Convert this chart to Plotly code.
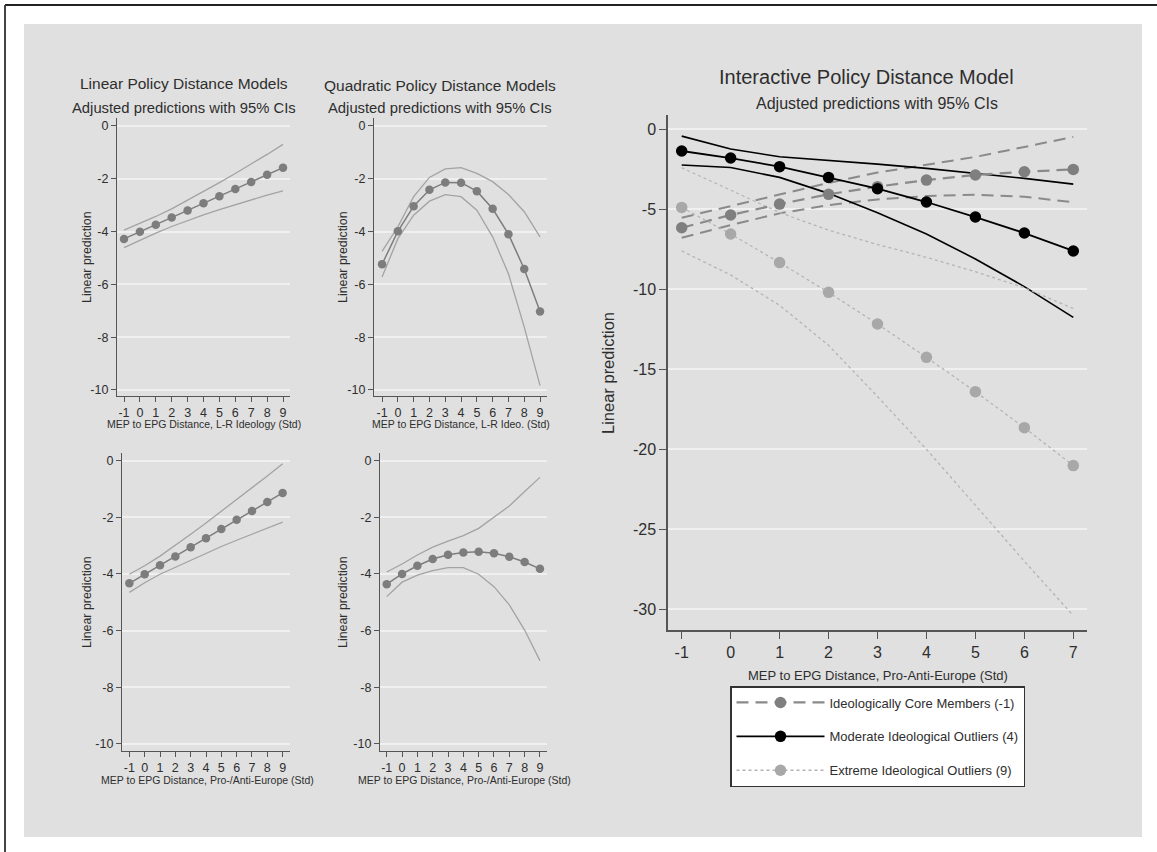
import plotly.graph_objects as go

W, H = 1157, 852

# ---------------- data ----------------
x_small = [-1, 0, 1, 2, 3, 4, 5, 6, 7, 8, 9]
x_small_labels = ["-1", "0", "1", "2", "3", "4", "5", "6", "7", "8", "9"]

lin_lr_pred = [-4.28, -4.01, -3.74, -3.47, -3.20, -2.93, -2.66, -2.39, -2.12, -1.85, -1.58]
lin_lr_hi = [-3.95, -3.70, -3.43, -3.14, -2.82, -2.49, -2.15, -1.80, -1.45, -1.08, -0.70]
lin_lr_lo = [-4.61, -4.33, -4.06, -3.81, -3.58, -3.37, -3.17, -2.98, -2.79, -2.62, -2.46]

quad_lr_pred = [-5.24, -3.99, -3.04, -2.42, -2.14, -2.15, -2.47, -3.14, -4.10, -5.42, -7.03]
quad_lr_hi = [-4.75, -3.82, -2.68, -1.95, -1.63, -1.58, -1.80, -2.11, -2.60, -3.25, -4.20]
quad_lr_lo = [-5.72, -4.27, -3.38, -2.85, -2.60, -2.68, -3.19, -4.20, -5.60, -7.62, -9.84]

lin_eu_pred = [-4.33, -4.01, -3.69, -3.38, -3.06, -2.74, -2.41, -2.09, -1.78, -1.46, -1.14]
lin_eu_hi = [-4.01, -3.71, -3.37, -3.00, -2.60, -2.20, -1.79, -1.37, -0.96, -0.54, -0.11]
lin_eu_lo = [-4.65, -4.31, -4.01, -3.76, -3.52, -3.28, -3.03, -2.81, -2.60, -2.38, -2.17]

quad_eu_pred = [-4.36, -4.00, -3.71, -3.47, -3.32, -3.24, -3.22, -3.27, -3.39, -3.58, -3.82]
quad_eu_hi = [-3.93, -3.65, -3.33, -3.05, -2.84, -2.65, -2.39, -2.01, -1.60, -1.09, -0.59]
quad_eu_lo = [-4.80, -4.29, -4.04, -3.88, -3.78, -3.78, -4.01, -4.45, -5.09, -5.98, -7.06]

x_int = [-1, 0, 1, 2, 3, 4, 5, 6, 7]
x_int_labels = ["-1", "0", "1", "2", "3", "4", "5", "6", "7"]
core_pred = [-6.15, -5.35, -4.67, -4.06, -3.58, -3.17, -2.85, -2.65, -2.50]
core_hi = [-5.52, -4.80, -4.10, -3.35, -2.70, -2.22, -1.72, -1.10, -0.47]
core_lo = [-6.77, -5.98, -5.25, -4.73, -4.38, -4.17, -4.08, -4.21, -4.56]

mod_pred = [-1.35, -1.79, -2.33, -3.00, -3.71, -4.54, -5.48, -6.48, -7.60]
mod_hi = [-0.42, -1.23, -1.71, -1.92, -2.17, -2.44, -2.75, -3.06, -3.42]
mod_lo = [-2.23, -2.38, -3.00, -4.00, -5.21, -6.54, -8.10, -9.83, -11.75]

ext_pred = [-4.88, -6.54, -8.33, -10.19, -12.17, -14.25, -16.40, -18.65, -21.02]
ext_hi = [-2.40, -3.80, -5.20, -6.30, -7.20, -8.00, -8.90, -9.90, -11.20]
ext_lo = [-7.60, -9.10, -11.00, -13.50, -16.70, -20.00, -23.50, -27.00, -30.40]

series_names = ["Ideologically Core Members (-1)",
                "Moderate Ideological Outliers (4)",
                "Extreme Ideological Outliers (9)"]

small_y_ticks = [0, -2, -4, -6, -8, -10]
small_y_labels = ["0", "-2", "-4", "-6", "-8", "-10"]
big_y_ticks = [0, -5, -10, -15, -20, -25, -30]
big_y_labels = ["0", "-5", "-10", "-15", "-20", "-25", "-30"]

# ---------------- helpers ----------------
FONT = "Liberation Sans, Arial, sans-serif"
TXT = "#2e2e2e"
AX = "#555555"


def px(p):
    return p / W


def py(p):
    return 1 - p / H


def dx(p0, p1):
    return [px(p0), px(p1)]


def dy(top, bottom):
    return [py(bottom), py(top)]


fig = go.Figure()

small_panels = [
    ("", (117, 290), (118, 396), [-1.44, 9.44], [-10.23, 0.30], lin_lr_pred, lin_lr_hi, lin_lr_lo),
    ("2", (374, 547), (118, 396), [-1.51, 9.44], [-10.23, 0.30], quad_lr_pred, quad_lr_hi, quad_lr_lo),
    ("3", (122, 290), (453, 751), [-1.48, 9.48], [-10.25, 0.27], lin_eu_pred, lin_eu_hi, lin_eu_lo),
    ("4", (380, 547), (453, 751), [-1.44, 9.46], [-10.25, 0.27], quad_eu_pred, quad_eu_hi, quad_eu_lo),
]

layout_axes = {}
for suf, xd, yd, xr, yr, pred, hi, lo in small_panels:
    xa = "x" + suf
    ya = "y" + suf
    for ci in (hi, lo):
        fig.add_trace(go.Scatter(x=x_small, y=ci, mode="lines", xaxis=xa, yaxis=ya,
                                 line=dict(color="#a3a3a3", width=1.3), showlegend=False,
                                 hoverinfo="skip"))
    fig.add_trace(go.Scatter(x=x_small, y=pred, mode="lines+markers", xaxis=xa, yaxis=ya,
                             line=dict(color="#7d7d7d", width=1.5),
                             marker=dict(color="#7d7d7d", size=8.5), showlegend=False))
    layout_axes["xaxis" + suf] = dict(
        domain=dx(*xd), range=xr, anchor=ya, tickmode="array", tickvals=x_small,
        ticktext=x_small_labels,
        ticks="outside", ticklen=5, tickcolor=AX, tickwidth=1, showline=True, linecolor=AX,
        linewidth=1.3, showgrid=False, zeroline=False,
        tickfont=dict(family=FONT, size=12.5, color=TXT))
    layout_axes["yaxis" + suf] = dict(
        domain=dy(*yd), range=yr, anchor=xa, tickmode="array", tickvals=small_y_ticks,
        ticktext=small_y_labels,
        ticks="outside", ticklen=5, tickcolor=AX, tickwidth=1, showline=True, linecolor=AX,
        linewidth=1.3, showgrid=True, gridcolor="#f0f0f0", gridwidth=1.5, zeroline=False,
        tickfont=dict(family=FONT, size=12.5, color=TXT))

# ---------------- interactive panel ----------------
styles = [
    dict(color="#8a8a8a", mcolor="#7f7f7f", dash="12px,7px", width=2.2, ciw=2.0),
    dict(color="#000000", mcolor="#000000", dash="solid", width=1.8, ciw=1.6),
    dict(color="#b4b4b4", mcolor="#a8a8a8", dash="dot", width=1.3, ciw=1.3),
]
groups = [(core_pred, core_hi, core_lo), (mod_pred, mod_hi, mod_lo), (ext_pred, ext_hi, ext_lo)]

for (pred, hi, lo), st in zip(groups, styles):
    for ci in (hi, lo):
        fig.add_trace(go.Scatter(x=x_int, y=ci, mode="lines", xaxis="x5", yaxis="y5",
                                 line=dict(color=st["color"], width=st["ciw"], dash=st["dash"]),
                                 showlegend=False, hoverinfo="skip"))
for i, ((pred, hi, lo), st) in enumerate(zip(groups, styles)):
    fig.add_trace(go.Scatter(x=x_int, y=pred, mode="lines+markers", xaxis="x5", yaxis="y5",
                             name=series_names[i], legendgroup=f"g{i}",
                             line=dict(color=st["color"], width=st["width"], dash=st["dash"]),
                             marker=dict(color=st["mcolor"], size=11.5)))

layout_axes["xaxis5"] = dict(
    domain=dx(668, 1087), range=[-1.28, 7.28], anchor="y5", tickmode="array", tickvals=x_int,
    ticktext=x_int_labels,
    ticks="outside", ticklen=7, tickcolor=AX, tickwidth=1.2, showline=True, linecolor=AX,
    linewidth=1.5, showgrid=False, zeroline=False,
    tickfont=dict(family=FONT, size=16, color=TXT))
layout_axes["yaxis5"] = dict(
    domain=dy(115, 630), range=[-31.3, 0.9], anchor="x5", tickmode="array", tickvals=big_y_ticks,
    ticktext=big_y_labels,
    ticks="outside", ticklen=7, tickcolor=AX, tickwidth=1.2, showline=True, linecolor=AX,
    linewidth=1.5, showgrid=True, gridcolor="#f0f0f0", gridwidth=1.5, zeroline=False,
    tickfont=dict(family=FONT, size=16, color=TXT))


# ---------------- text ----------------
def ann(text, xp, yp, size, angle=0):
    return dict(text=text, x=px(xp), y=py(yp), xref="paper", yref="paper",
                showarrow=False, xanchor="center", yanchor="middle", textangle=angle,
                font=dict(family=FONT, size=size, color=TXT))


annotations = [
    ann("Linear Policy Distance Models", 184, 83, 15.5),
    ann("Adjusted predictions with 95% CIs", 184, 108, 14.8),
    ann("Quadratic Policy Distance Models", 440, 85, 15.5),
    ann("Adjusted predictions with 95% CIs", 440, 108, 14.8),
    ann("Interactive Policy Distance Model", 866, 77, 20),
    ann("Adjusted predictions with 95% CIs", 877, 103, 16),
    ann("MEP to EPG Distance, L-R Ideology (Std)", 204, 424, 10.5),
    ann("MEP to EPG Distance, L-R Ideo. (Std)", 461, 424, 10.5),
    ann("MEP to EPG Distance, Pro-/Anti-Europe (Std)", 207, 780, 10.5),
    ann("MEP to EPG Distance, Pro-/Anti-Europe (Std)", 464, 780, 10.5),
    ann("MEP to EPG Distance, Pro-Anti-Europe (Std)", 878, 675, 13),
    ann("Linear prediction", 87, 257, 12.4, -90),
    ann("Linear prediction", 343, 257, 12.4, -90),
    ann("Linear prediction", 87, 602, 12.4, -90),
    ann("Linear prediction", 343, 602, 12.4, -90),
    ann("Linear prediction", 608, 373, 16.5, -90),
]

shapes = [
    dict(type="rect", xref="paper", yref="paper", x0=px(24), x1=px(1142),
         y0=py(837), y1=py(24), fillcolor="#e0e0e0", line=dict(width=0), layer="below"),
    dict(type="line", xref="paper", yref="paper", x0=px(5), x1=1.0, y0=py(5), y1=py(5),
         line=dict(color="#222222", width=2)),
    dict(type="line", xref="paper", yref="paper", x0=px(5), x1=px(5), y0=0, y1=py(5),
         line=dict(color="#444444", width=2)),
]

fig.update_layout(
    width=W, height=H, margin=dict(l=0, r=0, t=0, b=0),
    paper_bgcolor="white", plot_bgcolor="white",
    font=dict(family=FONT, color=TXT),
    annotations=annotations, shapes=shapes,
    showlegend=True,
    legend=dict(x=px(730), y=py(686), xanchor="left", yanchor="top",
                bgcolor="white", bordercolor="#333333", borderwidth=1.5,
                font=dict(family=FONT, size=13, color=TXT),
                itemwidth=88, tracegroupgap=14, itemclick=False),
    **layout_axes,
)

fig.write_html("out.html",
               config={"displayModeBar": False},
               post_script="document.body.style.margin='0px';"
                           "document.body.style.overflow='hidden';")
